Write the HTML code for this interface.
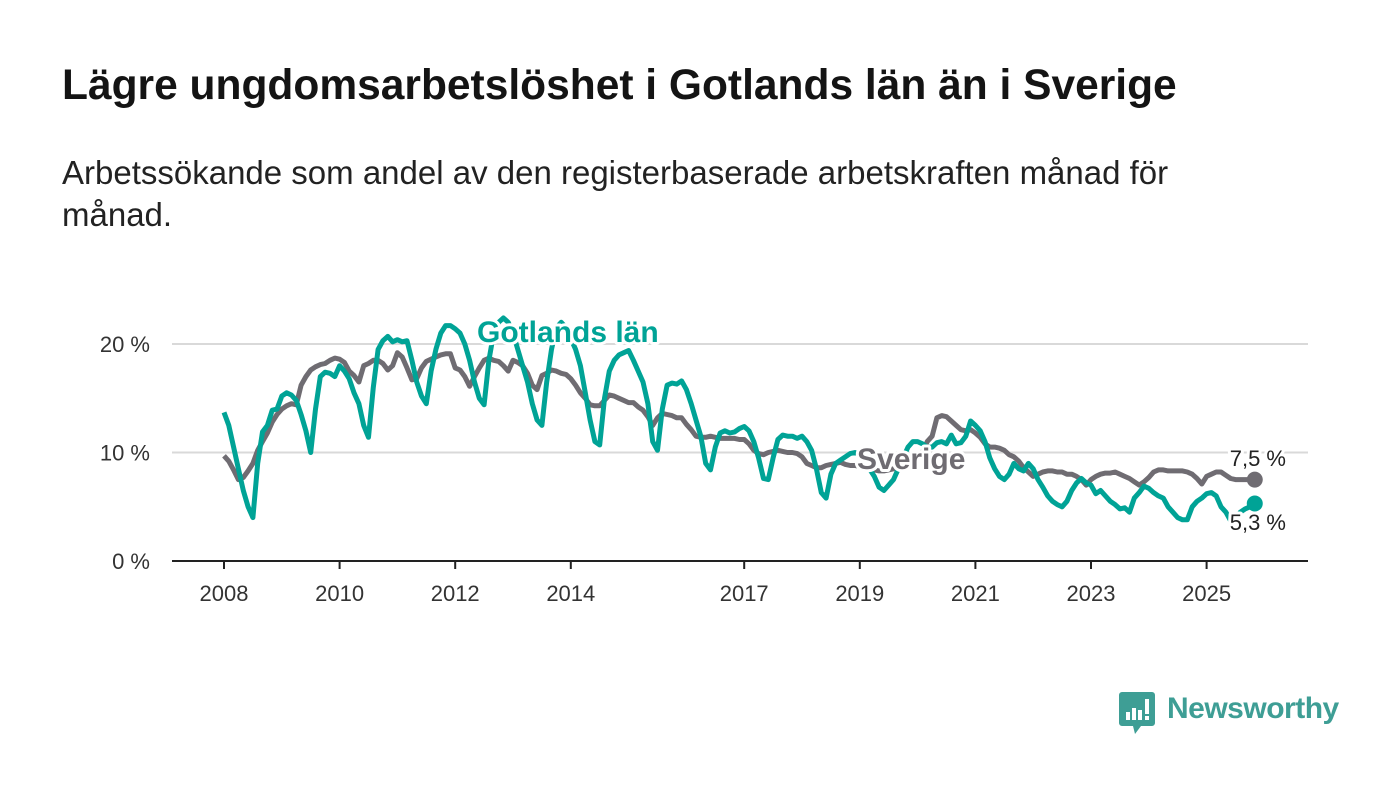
<!DOCTYPE html>
<html><head><meta charset="utf-8"><style>
body{margin:0;background:#fff;width:1400px;height:794px;overflow:hidden;font-family:"Liberation Sans","DejaVu Sans",sans-serif;}
#title{position:absolute;left:62px;top:62px;font-size:42.5px;font-weight:bold;color:#141414;margin:0;white-space:nowrap;}
#sub{position:absolute;left:62px;top:152px;width:1200px;font-size:33px;line-height:42px;color:#222;margin:0;}
svg{position:absolute;left:0;top:0;}
</style></head><body>
<h1 id="title">Lägre ungdomsarbetslöshet i Gotlands län än i Sverige</h1>
<p id="sub">Arbetssökande som andel av den registerbaserade arbetskraften månad för månad.</p>
<svg id="chart" width="1400" height="794"></svg>
<script>
const yTicks=[0,10,20];
const yTickLabels=["0 %","10 %","20 %"];
const xTicks=[2008,2010,2012,2014,2017,2019,2021,2023,2025];
const startYear=2008;
const gotland=[
13.7,12.5,10.5,8.5,6.5,5.0,4.0,9.0,11.9,12.5,13.9,14.0,
15.2,15.5,15.3,14.8,13.5,12.0,10.0,14.0,17.0,17.4,17.3,17.0,
18.0,17.5,16.8,15.5,14.5,12.5,11.4,16.0,19.5,20.3,20.7,20.2,
20.4,20.2,20.3,18.5,16.5,15.2,14.5,17.5,19.5,21.0,21.7,21.7,
21.4,21.0,20.0,18.5,16.5,15.0,14.4,18.5,21.0,22.0,22.4,22.0,
21.0,19.5,18.0,16.5,14.5,13.0,12.5,16.5,19.5,21.5,22.0,21.5,
20.5,19.5,18.0,15.5,13.0,11.0,10.7,15.0,17.5,18.5,19.0,19.2,
19.4,18.5,17.5,16.5,14.5,11.0,10.2,14.0,16.2,16.4,16.3,16.6,
15.8,14.5,13.0,11.5,9.0,8.4,10.5,11.8,12.0,11.8,11.9,12.2,
12.4,12.0,11.0,9.5,7.6,7.5,9.5,11.2,11.6,11.5,11.5,11.3,
11.5,11.0,10.2,8.5,6.3,5.8,8.0,9.0,9.3,9.6,9.9,10.0,
9.8,9.0,8.5,7.8,6.8,6.5,7.0,7.5,8.5,9.5,10.5,11.0,
11.0,10.8,10.5,10.5,10.9,11.0,10.8,11.6,10.8,10.9,11.5,12.9,
12.5,12.0,11.0,9.5,8.5,7.8,7.5,8.0,9.0,8.5,8.3,9.0,
8.5,7.5,6.8,6.0,5.5,5.2,5.0,5.5,6.5,7.2,7.6,7.2,
7.0,6.2,6.5,6.0,5.5,5.2,4.8,4.9,4.5,5.8,6.3,6.9,
6.7,6.3,6.0,5.8,5.0,4.5,4.0,3.8,3.8,5.0,5.5,5.8,
6.2,6.3,6.0,5.0,4.5,3.7,4.0,4.5,4.8,5.0,5.3];
const sverige=[
9.7,9.2,8.4,7.5,7.7,8.3,9.0,10.2,11.0,11.8,12.8,13.5,
14.0,14.3,14.5,14.4,16.2,17.0,17.6,17.9,18.1,18.2,18.5,18.7,
18.6,18.3,17.5,17.1,16.5,18.0,18.2,18.5,18.5,18.2,17.6,18.0,
19.2,18.8,17.8,16.7,16.8,17.8,18.4,18.6,18.8,19.0,19.1,19.1,
17.8,17.6,17.0,16.1,17.0,17.8,18.5,18.7,18.5,18.4,18.0,17.5,
18.5,18.3,18.0,17.3,16.2,15.8,17.1,17.3,17.6,17.5,17.3,17.2,
16.8,16.2,15.5,15.0,14.4,14.3,14.3,14.8,15.3,15.2,15.0,14.8,
14.6,14.6,14.2,13.9,13.3,12.5,13.2,13.6,13.5,13.4,13.2,13.2,
12.6,12.1,11.5,11.4,11.4,11.5,11.4,11.3,11.3,11.3,11.3,11.2,
11.2,10.8,10.2,9.9,9.8,10.0,10.1,10.2,10.1,10.0,10.0,9.9,
9.6,9.0,8.8,8.6,8.6,8.8,8.9,9.0,9.1,8.9,8.8,8.8,
8.7,8.6,8.5,8.4,8.3,8.3,8.4,8.5,8.6,8.7,8.8,9.0,
9.5,10.0,11.0,11.5,13.2,13.4,13.3,12.9,12.5,12.1,12.0,12.1,
11.8,11.4,10.8,10.5,10.5,10.4,10.2,9.8,9.6,9.2,8.6,8.2,
7.8,8.0,8.2,8.3,8.3,8.2,8.2,8.0,8.0,7.8,7.5,7.0,
7.5,7.8,8.0,8.1,8.1,8.2,8.0,7.8,7.6,7.3,7.0,7.3,
7.7,8.2,8.4,8.4,8.3,8.3,8.3,8.3,8.2,8.0,7.6,7.1,
7.8,8.0,8.2,8.2,7.9,7.6,7.5,7.5,7.5,7.5,7.5];

const NS='http://www.w3.org/2000/svg';
const svg=document.getElementById('chart');
const X0=224,PXY=57.8,Y0=561,PXV=10.85;
function xs(i){return X0+PXY*i/12;}
function xy(y){return X0+PXY*(y-startYear);}
function ys(v){return Y0-PXV*v;}
function mk(t,a){const e=document.createElementNS(NS,t);for(const k in a)e.setAttribute(k,a[k]);svg.appendChild(e);return e;}

yTicks.forEach((t,i)=>{
  if(t>0){const g=mk('line',{x1:172,x2:1308,y1:ys(t),y2:ys(t),stroke:'#d9d9d9','stroke-width':2});
  
  }
  const l=mk('text',{x:150,y:ys(t)+8,'text-anchor':'end','font-size':22,fill:'#333','font-family':'Liberation Sans, sans-serif'});
  l.textContent=yTickLabels[i];
  
  
});
const ax=mk('line',{x1:172,x2:1308,y1:Y0,y2:Y0,stroke:'#222','stroke-width':2});


xTicks.forEach(t=>{
  const tk=mk('line',{x1:xy(t),x2:xy(t),y1:Y0,y2:Y0+8,stroke:'#222','stroke-width':2});
  
  
  const l=mk('text',{x:xy(t),y:Y0+40,'text-anchor':'middle','font-size':22,fill:'#333','font-family':'Liberation Sans, sans-serif'});
  l.textContent=t;
  
  
});
function line(arr,col,name){
  const d=arr.map((v,i)=>(i?'L':'M')+xs(i).toFixed(1)+','+ys(v).toFixed(1)).join('');
  const p=mk('path',{d:d,fill:'none',stroke:col,'stroke-width':5,'stroke-linejoin':'round'});
  
  
  const n=arr.length-1;
  const c=mk('circle',{cx:xs(n),cy:ys(arr[n]),r:8,fill:col});
  
  
}
line(sverige,'#6f6c72','sverige-line');
line(gotland,'#00a396','gotland-line');
function lab(txt,x,y,col,size,w,anchor,name){
  const t=mk('text',{x:x,y:y,fill:col,'font-size':size,'font-weight':w,'text-anchor':anchor,stroke:'#fff','stroke-width':6,'paint-order':'stroke','stroke-linejoin':'round','font-family':'Liberation Sans, sans-serif'});
  t.textContent=txt;
  
  
}
lab('Gotlands län',477,342,'#00a396',30,'bold','start','gotland-label');
lab('Sverige',857,469,'#6f6c72',30,'bold','start','sverige-label');
lab('7,5 %',1286,466,'#222',22,'normal','end','sverige-end-value');
lab('5,3 %',1286,530,'#222',22,'normal','end','gotland-end-value');
</script>
<div style="position:absolute;left:1119px;top:692px;">
<svg width="36" height="44" style="position:absolute;left:0;top:0"><path d="M3 0H33a3 3 0 0 1 3 3V31a3 3 0 0 1-3 3H22L16 42 14 34H3a3 3 0 0 1-3-3V3a3 3 0 0 1 3-3z" fill="#3e9e95"/><rect x="7" y="20" width="4" height="8" fill="#fff"/><rect x="13" y="16" width="4" height="12" fill="#fff"/><rect x="19" y="18" width="4" height="10" fill="#fff"/><rect x="26" y="7" width="4" height="15" fill="#fff"/><rect x="26" y="24" width="4" height="4" fill="#fff"/></svg>
<span style="position:absolute;left:48px;top:0;font-size:30px;color:#3e9e95;font-weight:bold;white-space:nowrap;letter-spacing:-0.5px">Newsworthy</span>
</div>
</body></html>
